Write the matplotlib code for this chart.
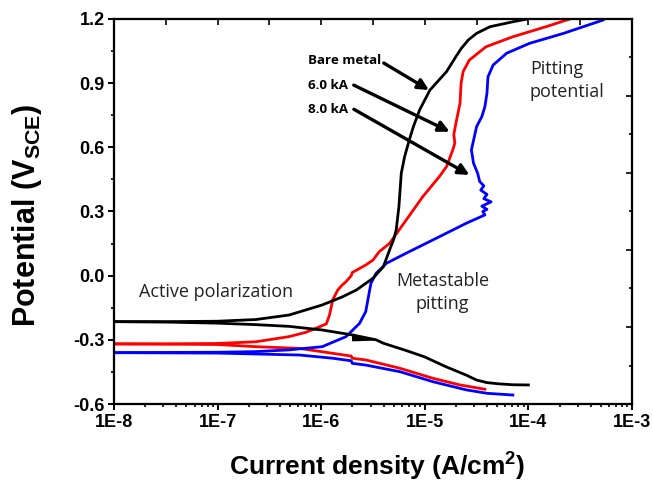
import numpy as np
import matplotlib
matplotlib.use("Agg")
import matplotlib.pyplot as plt
from matplotlib.ticker import FixedLocator, NullFormatter

plt.rcParams['mathtext.default'] = 'regular'

# ---- data (log10 of current density in A/cm^2, potential in V_SCE) ----
bare_an_logi = [-8.0, -7.5, -7.0, -6.63, -6.31, -5.99, -5.80, -5.66, -5.50, -5.40, -5.34, -5.30,
                -5.276, -5.25, -5.227, -5.195, -5.15, -5.11, -5.05, -4.95, -4.79, -4.70, -4.647,
                -4.58, -4.50, -4.37, -4.15, -4.02]
bare_an_v = [-0.215, -0.215, -0.213, -0.205, -0.184, -0.137, -0.10, -0.067, -0.012, 0.042, 0.12, 0.17,
             0.214, 0.322, 0.479, 0.556, 0.634, 0.697, 0.775, 0.868, 0.954, 1.024, 1.063,
             1.102, 1.133, 1.164, 1.187, 1.199]
bare_ca_logi = [-8.0, -7.5, -7.0, -6.63, -6.31, -5.99, -5.70, -5.47, -5.40, -5.18, -5.0, -4.8,
                -4.6, -4.5, -4.4, -4.28, -4.15, -4.0]
bare_ca_v = [-0.215, -0.217, -0.222, -0.229, -0.237, -0.254, -0.277, -0.30, -0.316, -0.35, -0.38,
             -0.425, -0.465, -0.488, -0.50, -0.506, -0.51, -0.511]
bare_wedge_logi = [-5.696, -5.696, -5.47]
bare_wedge_v = [-0.277, -0.304, -0.300]

ka6_an_logi = [-8.0, -7.5, -7.0, -6.63, -6.31, -6.15, -6.05, -5.95, -5.92, -5.90, -5.89, -5.84,
               -5.80, -5.76, -5.71, -5.70, -5.68, -5.57, -5.50, -5.44, -5.34, -5.18, -5.02,
               -4.86, -4.79, -4.73, -4.71, -4.72, -4.70, -4.66, -4.65, -4.63, -4.57, -4.41,
               -4.15, -3.83, -3.60]
ka6_an_v = [-0.319, -0.319, -0.317, -0.309, -0.285, -0.265, -0.246, -0.225, -0.184, -0.14, -0.114,
            -0.067, -0.045, -0.028, 0.0, 0.015, 0.02, 0.05, 0.073, 0.112, 0.151, 0.26, 0.369,
            0.463, 0.51, 0.588, 0.62, 0.66, 0.712, 0.806, 0.899, 0.954, 1.008, 1.07,
            1.117, 1.164, 1.2]
ka6_ca_logi = [-8.0, -7.5, -7.0, -6.63, -6.21, -5.89, -5.71, -5.70, -5.57, -5.24, -4.92, -4.66, -4.42]
ka6_ca_v = [-0.319, -0.32, -0.322, -0.332, -0.34, -0.363, -0.376, -0.386, -0.394, -0.433, -0.48,
            -0.511, -0.531]

ka8_an_logi = [-8.0, -7.0, -6.63, -6.31, -5.99, -5.76, -5.63, -5.57, -5.55, -5.52, -5.47, -5.37,
               -5.18, -4.86, -4.60, -4.42, -4.44, -4.40, -4.45, -4.36, -4.43, -4.40, -4.46,
               -4.43, -4.47, -4.49, -4.53, -4.55, -4.50, -4.45, -4.42, -4.40, -4.39, -4.34,
               -4.21, -3.99, -3.66, -3.28]
ka8_an_v = [-0.36, -0.358, -0.355, -0.347, -0.332, -0.285, -0.223, -0.168, -0.114, -0.036, 0.011,
            0.058, 0.105, 0.182, 0.245, 0.284, 0.30, 0.31, 0.325, 0.345, 0.36, 0.38, 0.40,
            0.42, 0.44, 0.479, 0.526, 0.588, 0.697, 0.743, 0.79, 0.853, 0.93, 0.985,
            1.04, 1.086, 1.133, 1.195]
ka8_ca_logi = [-8.0, -7.0, -6.21, -5.89, -5.71, -5.70, -5.57, -5.24, -4.92, -4.60, -4.40, -4.15]
ka8_ca_v = [-0.36, -0.362, -0.371, -0.386, -0.398, -0.41, -0.418, -0.449, -0.496, -0.534, -0.55,
            -0.558]

x_tick_labels = ['1E-8', '1E-7', '1E-6', '1E-5', '1E-4', '1E-3']
y_ticks = [-0.6, -0.3, 0.0, 0.3, 0.6, 0.9, 1.2]

# ---- figure ----
fig = plt.figure(figsize=(6.53, 4.86), dpi=100)
ax = fig.add_axes([114 / 653, 1 - 404 / 486, 518 / 653, 385 / 486])

def p(logi):
    return np.power(10.0, np.asarray(logi))

lw = 2.0
ax.plot(p(bare_an_logi), bare_an_v, color='black', lw=lw, zorder=3)
ax.plot(p(bare_ca_logi), bare_ca_v, color='black', lw=lw, zorder=3)
ax.fill(p(bare_wedge_logi), bare_wedge_v, color='black', lw=1, zorder=3)
ax.plot(p(ka6_an_logi), ka6_an_v, color='#ff0000', lw=lw, zorder=2)
ax.plot(p(ka6_ca_logi), ka6_ca_v, color='#ff0000', lw=lw, zorder=2)
ax.plot(p(ka8_an_logi), ka8_an_v, color='#0000ff', lw=lw, zorder=2)
ax.plot(p(ka8_ca_logi), ka8_ca_v, color='#0000ff', lw=lw, zorder=2)

ax.set_xscale('log')
ax.set_xlim(1e-8, 1e-3)
ax.set_ylim(-0.6, 1.2)

xt = [10.0 ** e for e in range(-8, -2)]
ax.xaxis.set_major_locator(FixedLocator(xt))
ax.set_xticklabels(x_tick_labels)
minors = [m * 10.0 ** e for e in range(-8, -3) for m in range(2, 10)]
ax.xaxis.set_minor_locator(FixedLocator(minors))
ax.xaxis.set_minor_formatter(NullFormatter())
ax.set_yticks(y_ticks)
ax.set_yticklabels(['%.1f' % v for v in y_ticks])
ax.yaxis.set_minor_locator(FixedLocator([-0.45, -0.15, 0.15, 0.45, 0.75, 1.05]))

for lab in ax.get_xticklabels() + ax.get_yticklabels():
    lab.set_fontfamily('Liberation Sans')
    lab.set_fontweight('bold')
    lab.set_fontsize(13)

ax.tick_params(axis='both', which='major', direction='out', length=4, width=1.4,
               top=False, right=False)
ax.tick_params(axis='both', which='minor', direction='out', length=2.2, width=1.2,
               top=False, right=False)
ax.tick_params(axis='x', which='major', pad=3.5)
ax.tick_params(axis='y', which='major', pad=2.5)
for s in ax.spines.values():
    s.set_linewidth(1.5)

# top axis ticks (half decades) and right axis ticks
axt = ax.twiny()
axt.set_xscale('log')
axt.set_xlim(1e-8, 1e-3)
axt.xaxis.set_major_locator(FixedLocator([10.0 ** (-8 + 0.5 * k) for k in range(1, 10)]))
axt.xaxis.set_minor_locator(FixedLocator([]))
axt.xaxis.set_major_formatter(NullFormatter())
axt.xaxis.set_minor_formatter(NullFormatter())
axt.tick_params(axis='x', which='major', direction='in', length=4.5, width=1.2)
axt.tick_params(axis='y', left=False, labelleft=False)
axr = ax.twinx()
axr.set_ylim(-0.6, 1.2)
axr.yaxis.set_major_locator(FixedLocator([-0.6 + 0.36 * k for k in range(6)]))
axr.yaxis.set_minor_locator(FixedLocator([-0.42 + 0.36 * k for k in range(5)]))
axr.yaxis.set_major_formatter(NullFormatter())
axr.tick_params(axis='y', which='major', direction='in', length=4.5, width=1.2)
axr.tick_params(axis='y', which='minor', direction='in', length=2.5, width=1.2)
for a in (axt, axr):
    for s in a.spines.values():
        s.set_linewidth(1.5)

ax.set_xlabel('Current density (A/cm$^{2}$)', fontfamily='Liberation Sans', fontweight='bold',
              fontsize=19)
ax.xaxis.set_label_coords(0.508, -0.122)
ax.set_ylabel('Potential (V$_{SCE}$)', fontfamily='Liberation Sans', fontweight='bold',
              fontsize=22)
ax.yaxis.set_label_coords(-0.135, 0.49)

# annotations
note_font = dict(family='Open Sans', weight='bold', size=9.6)
arrow = dict(arrowstyle='-|>', lw=2.4, color='black', mutation_scale=16, shrinkA=0, shrinkB=0)
ax.annotate('Bare metal', xy=(10 ** -4.96, 0.868), xytext=(10 ** -6.13, 1.008),
            ha='left', va='center', arrowprops=dict(arrow, relpos=(1.0, 0.4)), **note_font)
ax.annotate('6.0 kA', xy=(10 ** -4.76, 0.673), xytext=(10 ** -6.13, 0.891),
            ha='left', va='center', arrowprops=dict(arrow, relpos=(1.15, 0.5)), **note_font)
ax.annotate('8.0 kA', xy=(10 ** -4.57, 0.471), xytext=(10 ** -6.13, 0.778),
            ha='left', va='center', arrowprops=dict(arrow, relpos=(1.15, 0.5)), **note_font)

txt_font = dict(family='Open Sans', size=13, color='#222222')
ax.text(10 ** -7.76, -0.076, 'Active polarization', ha='left', va='center', **txt_font)
ax.text(10 ** -4.83, -0.079, 'Metastable\npitting', ha='center', va='center',
        linespacing=1.4, **txt_font)
ax.text(10 ** -3.986, 0.912, 'Pitting\npotential', ha='left', va='center',
        linespacing=1.4, **txt_font)

fig.savefig('out.png', dpi=100)
